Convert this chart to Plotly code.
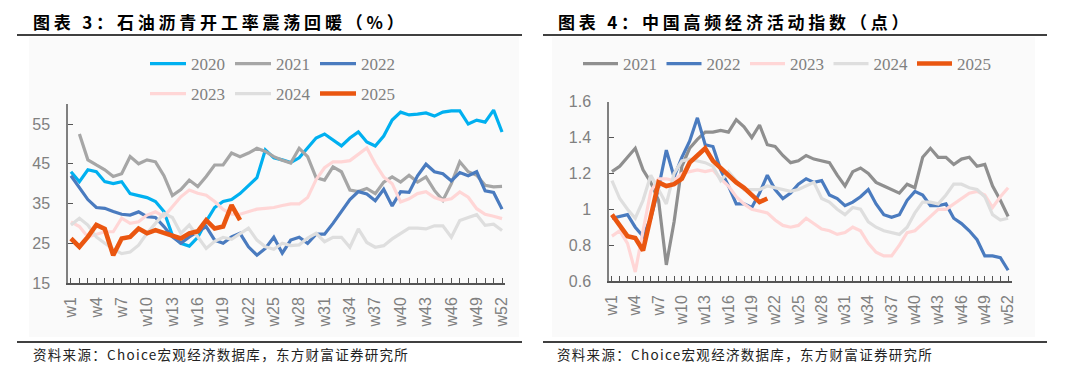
import plotly.graph_objects as go

weeks = list(range(1, 53))
week_labels = [f"w{w}" if (w - 1) % 3 == 0 else "" for w in weeks]

# ---- Left chart: 石油沥青开工率 (%) ----
asphalt_2020 = [43, 40.5, 43.5, 43, 40.5, 40, 40.5, 37.5, 37, 36.5, 35.5, 33, 27, 25, 24.3, 26.5,
                30.5, 34, 35.5, 36, 37.5, 39.5, 41.5, 48.5, 46.5, 46, 45.3, 46.5, 49, 51.5, 52.5, 51,
                49.5, 51.5, 53, 50.5, 49.5, 52, 56, 58, 57.3, 57.5, 57.8, 57, 58, 58.3, 58.3, 55, 56,
                55.5, 58.5, 53]
asphalt_2021 = [None, 52.5, 46, 44.7, 43.5, 41.8, 42.5, 46.8, 45, 46, 45.5, 42, 37, 38.5, 40.9, 39.3,
                41.8, 44.7, 44.7, 47.7, 46.8, 47.7, 48.9, 48.1, 46.8, 45.9, 45.2, 48.9, 46.8, 41.5,
                40.9, 44.2, 43, 38.4, 38, 38.8, 37.5, 40.4, 41.7, 40.4, 42.1, 40.4, 41.7, 38.3, 35.8,
                40, 45.5, 43, 42.1, 39.6, 39.2, 39.3]
asphalt_2022 = [42, 39, 36, 34, 33.8, 33, 32.3, 32.1, 32.9, 31.7, 31.5, 29.2, 26.6, 25, 26.6, 27.9,
                29.2, 25.8, 25, 26.6, 27.5, 24.1, 22, 23.7, 26.5, 22.5, 25.8, 26.5, 25, 27.3, 27.3,
                30, 33, 36, 38, 37.4, 35.7, 38.6, 34.4, 38, 37.8, 42, 44.9, 43, 42.5, 40.7, 42.8, 42,
                43, 38.2, 37.8, 33.6]
asphalt_2023 = [30.4, 29.2, 26.6, 27.3, 27.9, 27.9, 31.3, 30, 30.4, 32.1, 32.9, 31.7, 34.2, 36.7,
                38.4, 37.6, 37.1, 35.5, 33.5, 32.3, 32.3, 33, 33.6, 33.8, 34, 34.5, 34.9, 34.9, 36.5,
                41, 44, 45.5, 45.5, 45.8, 47.5, 49, 45, 41.7, 40, 35.4, 36.2, 37.5, 38, 36.5, 35.8,
                36.2, 37.9, 36.6, 33.7, 32.3, 31.8, 31.2]
asphalt_2024 = [29.6, 31.3, 29.6, 26.6, 25, 23.5, 22.4, 22.8, 24.5, 27.5, 30, 32.5, 31.5, 27.5,
                29.6, 26.5, 23.7, 25.5, 26.5, 26, 27.5, 28.8, 25.8, 24.1, 23.5, 25, 24.4, 24.6, 26.3,
                27.5, 25.4, 26.5, 26.5, 24, 28.6, 25.2, 24, 24.4, 26.1, 27.5, 28.8, 28.8, 28.6, 29.4,
                29.4, 26.5, 30.7, 31.5, 32.2, 29.5, 29.8, 28.2]
asphalt_2025 = [26.2, 24.1, 26.6, 29.6, 28.6, 22, 26.2, 26.6, 28.7, 27.5, 28.3, 27.5, 27, 26.2,
                27.5, 28, 30.8, 28.7, 29.2, 34.6, 30.8]
left_ticks = [15, 25, 35, 45, 55]

# ---- Right chart: 中国高频经济活动指数 (点) ----
act_2021 = [1.21, 1.24, 1.29, 1.34, 1.22, 1.15, 1.05, 0.69, 0.93, 1.24, 1.34, 1.39, 1.43, 1.43,
            1.44, 1.43, 1.5, 1.46, 1.4, 1.47, 1.36, 1.35, 1.3, 1.26, 1.27, 1.3, 1.28, 1.27, 1.26,
            1.19, 1.13, 1.21, 1.23, 1.2, 1.15, 1.13, 1.11, 1.09, 1.14, 1.12, 1.29, 1.34, 1.29,
            1.29, 1.25, 1.28, 1.29, 1.24, 1.25, 1.13, 1.05, 0.96]
act_2022 = [0.95, 0.96, 0.97, 0.9, 0.85, 0.95, 1.12, 1.33, 1.18, 1.29, 1.38, 1.51, 1.36, 1.35,
            1.22, 1.13, 1.03, 1.03, 1.01, 1.09, 1.19, 1.11, 1.06, 1.09, 1.14, 1.17, 1.15, 1.16,
            1.08, 1.06, 1.02, 1.04, 1.07, 1.11, 1.03, 0.97, 0.955, 0.97, 1.05, 1.1, 1.08, 1.02,
            1.02, 1.03, 0.95, 0.92, 0.88, 0.83, 0.74, 0.74, 0.73, 0.66]
act_2023 = [0.85, 0.88, 0.81, 0.65, 0.88, 1.1, 1.17, 1.17, 1.16, 1.2, 1.21, 1.22, 1.21, 1.22, 1.17,
            1.13, 1.07, 1.03, 1.0, 0.99, 0.98, 0.94, 0.91, 0.9, 0.91, 0.95, 0.92, 0.89, 0.88, 0.86,
            0.87, 0.9, 0.88, 0.81, 0.76, 0.74, 0.74, 0.8, 0.87, 0.88, 0.92, 0.96, 1.0, 1.0, 1.03,
            1.06, 1.09, 1.1, 1.08, 1.01, 1.07, 1.12]
act_2024 = [1.16, 1.06, 1.0, 0.95, 1.05, 1.19, 1.11, 1.03, 1.2, 1.27, 1.28, 1.27, 1.26, 1.24, 1.16,
            1.21, 1.16, 1.11, 1.11, 1.11, 1.13, 1.12, 1.11, 1.1, 1.11, 1.13, 1.15, 1.06, 1.04, 1.0,
            0.97, 1.01, 1.0, 0.93, 0.9, 0.88, 0.87, 0.86, 0.9, 0.98, 1.04, 1.04, 1.03, 1.08, 1.14,
            1.14, 1.12, 1.11, 1.07, 0.97, 0.94, 0.95]
act_2025 = [0.97, 0.91, 0.85, 0.84, 0.77, 0.96, 1.15, 1.13, 1.14, 1.17, 1.26, 1.3, 1.34, 1.27,
            1.23, 1.19, 1.15, 1.12, 1.08, 1.04, 1.06]
right_ticks = [0.6, 0.8, 1.0, 1.2, 1.4, 1.6]
right_tick_text = ["0.6", "0.8", "1", "1.2", "1.4", "1.6"]

W, H = 1080, 375
TICK_COLOR = "#808080"
LEG_FONT = dict(family="Liberation Serif", size=17, color="#808080")

fig = go.Figure()

left_series = [
    ("2020", asphalt_2020, "#00B0F0", 3.2, "legend"),
    ("2021", asphalt_2021, "#A6A6A6", 3.2, "legend"),
    ("2022", asphalt_2022, "#4A7BBF", 3.2, "legend"),
    ("2023", asphalt_2023, "#FFD6D6", 3.2, "legend2"),
    ("2024", asphalt_2024, "#DEDEDE", 3.2, "legend2"),
    ("2025", asphalt_2025, "#EA5610", 4.6, "legend2"),
]
for name, vals, color, width, leg in left_series:
    fig.add_trace(go.Scatter(x=weeks[:len(vals)], y=vals, name=name, mode="lines",
                             line=dict(color=color, width=width), legend=leg,
                             xaxis="x", yaxis="y", connectgaps=False))

right_series = [
    ("2021", act_2021, "#8F8F8F", 3.2),
    ("2022", act_2022, "#4A7BBF", 3.2),
    ("2023", act_2023, "#FFD6D6", 3.2),
    ("2024", act_2024, "#DEDEDE", 3.2),
    ("2025", act_2025, "#EA5610", 4.6),
]
for name, vals, color, width in right_series:
    fig.add_trace(go.Scatter(x=weeks[:len(vals)], y=vals, name=name, mode="lines",
                             line=dict(color=color, width=width), legend="legend3",
                             xaxis="x2", yaxis="y2"))


def px_x(p):
    return p / W


def px_y(p):
    return 1 - p / H


xaxis_common = dict(tickmode="array", tickvals=weeks, ticktext=week_labels, tickangle=-90,
                    ticks="inside", ticklen=5, tickcolor="#555555", tickwidth=1,
                    showline=True, linecolor="#555555", linewidth=1.5, showgrid=False,
                    zeroline=False, tickfont=dict(family="Arial", size=16, color=TICK_COLOR),
                    ticklabelstandoff=6, fixedrange=True, automargin=False)
yaxis_common = dict(showline=True, linecolor="#808080", linewidth=1.5, showgrid=False,
                    zeroline=False, ticks="inside", ticklen=5, tickcolor="#555555",
                    tickfont=dict(family="Arial", size=16, color=TICK_COLOR),
                    ticklabelstandoff=13, fixedrange=True, automargin=False)

leg_common = dict(orientation="h", xanchor="left", yanchor="middle", font=LEG_FONT,
                  entrywidthmode="pixels", bgcolor="rgba(0,0,0,0)", traceorder="normal",
                  itemclick=False, itemdoubleclick=False)

fig.update_layout(
    width=W, height=H,
    margin=dict(l=0, r=0, t=0, b=0, autoexpand=False),
    paper_bgcolor="white", plot_bgcolor="rgba(0,0,0,0)",
    xaxis=dict(domain=[px_x(68), px_x(505)], range=[0.65, 52.35], anchor="y", **xaxis_common),
    yaxis=dict(domain=[px_y(283), px_y(104.2)], range=[15, 60], tickmode="array",
               tickvals=left_ticks, anchor="x", **yaxis_common),
    xaxis2=dict(domain=[px_x(609), px_x(1012)], range=[0.62, 52.5], anchor="y2", **xaxis_common),
    yaxis2=dict(domain=[px_y(281), px_y(101.7)], range=[0.6, 1.6], tickmode="array",
                tickvals=right_ticks, ticktext=right_tick_text, anchor="x2", **yaxis_common),
    legend=dict(x=px_x(145), y=px_y(64), itemwidth=36, entrywidth=34, **leg_common),
    legend2=dict(x=px_x(145), y=px_y(94), itemwidth=36, entrywidth=34, **leg_common),
    legend3=dict(x=px_x(578), y=px_y(64), itemwidth=35, entrywidth=33.5, **leg_common),
    showlegend=True,
)

shapes = []
# light panel backgrounds
for x0, x1 in [(29, 519), (552, 1035)]:
    shapes.append(dict(type="rect", xref="paper", yref="paper", x0=px_x(x0), x1=px_x(x1),
                       y0=px_y(337), y1=px_y(37), fillcolor="#FAFAFA", line=dict(width=0),
                       layer="below"))
# title underlines and source lines
for x0, x1 in [(17, 522), (543, 1047)]:
    for yy in (35, 342):
        shapes.append(dict(type="line", xref="paper", yref="paper", x0=px_x(x0), x1=px_x(x1),
                           y0=px_y(yy), y1=px_y(yy), line=dict(color="black", width=1.3)))
fig.update_layout(shapes=shapes)

titles = [
    (31, "图表 3：石油沥青开工率震荡回暖（%）"),
    (556, "图表 4：中国高频经济活动指数（点）"),
]
source_text = "资料来源：Choice宏观经济数据库，东方财富证券研究所"
annotations = []
for x, t in titles:
    annotations.append(dict(xref="paper", yref="paper", x=px_x(x), y=px_y(21), xanchor="left",
                            yanchor="middle", showarrow=False,
                            text=f"<b><span style='letter-spacing:3.8px'>{t}</span></b>",
                            font=dict(family="Noto Sans CJK SC", size=17, color="black")))
for x in (31, 555):
    annotations.append(dict(xref="paper", yref="paper", x=px_x(x), y=px_y(354), xanchor="left",
                            yanchor="middle", showarrow=False,
                            text=f"<span style='letter-spacing:1.3px'>{source_text}</span>",
                            font=dict(family="Noto Sans CJK SC", size=13.5, color="#222222")))
fig.update_layout(annotations=annotations)

fig.write_html("out.html", config={"displayModeBar": False},
               post_script="document.body.style.margin='0px';")
